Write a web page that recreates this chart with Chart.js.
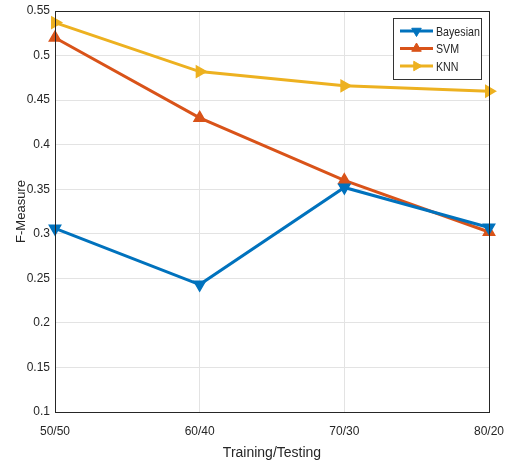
<!DOCTYPE html>
<html>
<head>
<meta charset="utf-8">
<script src="https://cdn.jsdelivr.net/npm/chart.js@4/dist/chart.umd.min.js"></script>
<style>
  html, body { margin: 0; padding: 0; background: #fff; }
  #wrap { width: 509px; height: 463px; }
</style>
</head>
<body>
<div id="wrap"><canvas id="graph" width="509" height="463"></canvas></div>
<script>
// data
const splits = ['50/50', '60/40', '70/30', '80/20'];
const bayesian = [0.306, 0.243, 0.352, 0.307];
const svm = [0.520, 0.430, 0.360, 0.302];
const knn = [0.537, 0.482, 0.466, 0.460];
const yTicks = [0.1, 0.15, 0.2, 0.25, 0.3, 0.35, 0.4, 0.45, 0.5, 0.55];

const FONT = '"Liberation Sans", Arial, sans-serif';
const textColor = '#262626';

const series = [
  { label: 'Bayesian', data: bayesian, color: '#0072BD', rotation: 180 },
  { label: 'SVM', data: svm, color: '#D95319', rotation: 0 },
  { label: 'KNN', data: knn, color: '#EDB120', rotation: 90 }
];

// box round the plot + matlab-style legend
const boxAndLegend = {
  id: 'boxAndLegend',
  afterDatasetsDraw(chart) {
    const { ctx, chartArea: a } = chart;
    ctx.save();
    ctx.strokeStyle = '#262626';
    ctx.lineWidth = 1;
    ctx.strokeRect(a.left + 0.5, a.top + 0.5, a.right - a.left, a.bottom - a.top);

    // legend
    const bx = 393, by = 18, bw = 88, bh = 61;
    ctx.fillStyle = '#fff';
    ctx.fillRect(bx, by, bw, bh);
    ctx.strokeStyle = '#333';
    ctx.strokeRect(bx + 0.5, by + 0.5, bw, bh);
    ctx.textBaseline = 'middle';
    series.forEach((s, i) => {
      const y = 31 + i * 17.5;
      ctx.strokeStyle = s.color;
      ctx.lineWidth = 2.8;
      ctx.beginPath();
      ctx.moveTo(400, y);
      ctx.lineTo(433, y);
      ctx.stroke();
      ctx.fillStyle = s.color;
      ctx.lineWidth = 1;
      Chart.helpers.drawPoint(ctx, { pointStyle: 'triangle', rotation: s.rotation, radius: 5.5, borderWidth: 1 }, 416.5, y);
      // squeeze text a bit, the original font is a narrow one
      ctx.save();
      ctx.translate(436, y + 1);
      ctx.scale(0.82, 1);
      ctx.font = '13px ' + FONT;
      ctx.fillStyle = textColor;
      ctx.fillText(s.label, 0, 0);
      ctx.restore();
    });
    ctx.restore();
  }
};

const graph = document.getElementById('graph');

new Chart(graph, {
  type: 'line',
  data: {
    labels: splits,
    datasets: series.map(s => ({
      label: s.label,
      data: s.data,
      borderColor: s.color,
      backgroundColor: s.color,
      borderWidth: 3,
      pointStyle: 'triangle',
      pointRotation: s.rotation,
      pointRadius: 6.5,
      pointBorderWidth: 1.5,
      tension: 0
    }))
  },
  options: {
    responsive: false,
    animation: false,
    devicePixelRatio: 1,
    plugins: { legend: { display: false }, tooltip: { enabled: false } },
    layout: { padding: { top: 11, right: 20, left: 0, bottom: 0 } },
    scales: {
      x: {
        offset: false,
        grid: { color: '#e3e3e3', drawTicks: false },
        border: { display: false },
        ticks: { color: textColor, font: { family: FONT, size: 12 }, padding: 12, maxRotation: 0 },
        title: { display: true, text: 'Training/Testing', color: textColor, font: { family: FONT, size: 14 }, padding: { top: 0, bottom: 1.5 } },
        afterFit(scale) {
          scale.height = 51;
          scale.paddingLeft = 0;
          scale.paddingRight = 0;
        }
      },
      y: {
        min: 0.1,
        max: 0.55,
        afterBuildTicks(scale) { scale.ticks = yTicks.map(v => ({ value: v })); },
        grid: { color: '#e3e3e3', drawTicks: false },
        border: { display: false },
        ticks: {
          color: textColor,
          font: { family: FONT, size: 12 },
          padding: 5,
          callback: v => String(Number(v.toFixed(2)))
        },
        title: { display: true, text: 'F-Measure', color: textColor, font: { family: FONT, size: 13 }, padding: { top: 14, bottom: 0 } },
        afterFit(scale) {
          scale.width = 55;
          scale.paddingTop = 0;
          scale.paddingBottom = 0;
        }
      }
    }
  },
  plugins: [boxAndLegend]
});
</script>
</body>
</html>
